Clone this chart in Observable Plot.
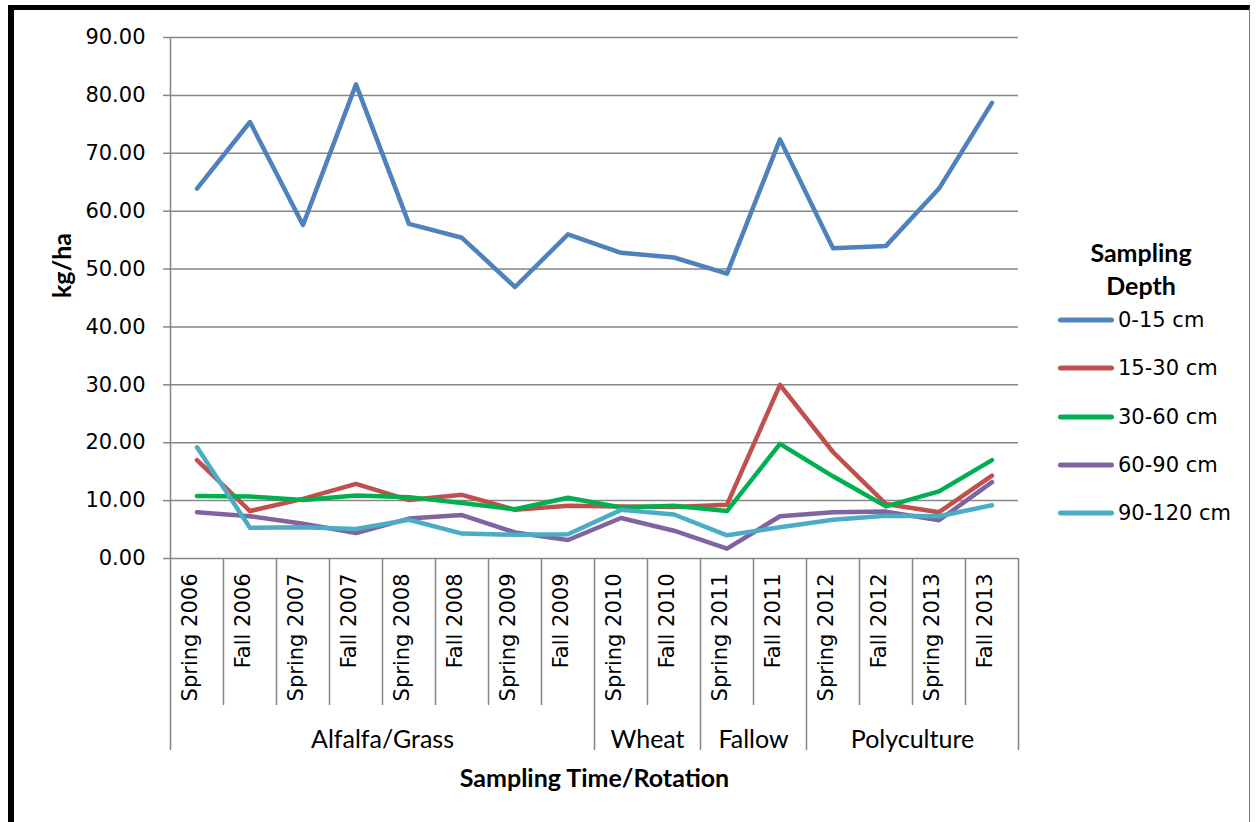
<!DOCTYPE html>
<html>
<head>
<meta charset="utf-8">
<script src="https://cdn.jsdelivr.net/npm/d3@7"></script>
<script src="https://cdn.jsdelivr.net/npm/@observablehq/plot@0.6"></script>
<style>
  html, body { margin: 0; padding: 0; background: #fff; overflow: hidden; }
  body { width: 1257px; height: 822px; position: relative; }
  #frame { position: absolute; left: 8px; top: 5px; width: 1242px; height: 900px;
           border-left: 6px solid #000; border-top: 5px solid #000; border-right: 1px solid #777; box-sizing: border-box; }
  #chart { position: absolute; left: 0; top: 0; }
  #legend { position: absolute; left: 0; top: 0; width: 1257px; height: 822px; pointer-events: none; }
  .lg-title { position: absolute; font-family: Lato, sans-serif; font-weight: bold; font-size: 25px; transform: translate(-50%, -50%); white-space: nowrap; }
  .lg-swatch { position: absolute; width: 56px; height: 5px; border-radius: 3px; transform: translateY(-50%); }
  .lg-text { position: absolute; font-family: "DejaVu Sans", sans-serif; font-size: 21px; transform: translateY(-50%); white-space: nowrap; }
</style>
</head>
<body>
<div id="frame"></div>
<div id="chart"></div>
<div id="legend"></div>
<script>
// ---- Data ----
const categories = ["Spring 2006","Fall 2006","Spring 2007","Fall 2007","Spring 2008","Fall 2008","Spring 2009","Fall 2009",
                    "Spring 2010","Fall 2010","Spring 2011","Fall 2011","Spring 2012","Fall 2012","Spring 2013","Fall 2013"];
const groupNames = ["Alfalfa/Grass","Wheat","Fallow","Polyculture"];
const groupSizes = [8, 2, 2, 4];
const seriesNames = ["0-15 cm","15-30 cm","30-60 cm","60-90 cm","90-120 cm"];
const seriesColors = ["#4F81BD","#C0504D","#00B050","#8064A2","#4BACC6"];
const depth0_15   = [63.9, 75.4, 57.6, 81.9, 57.8, 55.4, 46.9, 56.0, 52.8, 52.0, 49.2, 72.4, 53.6, 54.0, 63.9, 78.7];
const depth15_30  = [17.0,  8.2, 10.3, 12.9, 10.1, 11.0,  8.4,  9.1,  9.0,  8.9,  9.3, 30.0, 18.4,  9.4,  8.0, 14.3];
const depth30_60  = [10.8, 10.7, 10.1, 10.9, 10.6,  9.6,  8.5, 10.5,  8.8,  9.1,  8.2, 19.8, 14.2,  9.0, 11.6, 17.0];
const depth60_90  = [ 8.0,  7.3,  6.0,  4.4,  6.9,  7.5,  4.5,  3.2,  7.0,  4.8,  1.7,  7.3,  8.0,  8.1,  6.6, 13.2];
const depth90_120 = [19.2,  5.3,  5.4,  5.1,  6.7,  4.3,  4.1,  4.2,  8.4,  7.6,  4.0,  5.4,  6.7,  7.4,  7.3,  9.2];
const yTicks = [0, 10, 20, 30, 40, 50, 60, 70, 80, 90];
const yTitle = "kg/ha";
const xTitle = "Sampling Time/Rotation";
const legendTitle = ["Sampling", "Depth"];

// ---- Derived tables ----
const seriesValues = [depth0_15, depth15_30, depth30_60, depth60_90, depth90_120];
const rows = [];
seriesValues.forEach((vals, s) => vals.forEach((v, i) => rows.push({series: seriesNames[s], xi: i + 0.5, value: v})));
let acc = 0;
const groups = groupNames.map((name, k) => { const g = {name, start: acc, end: acc + groupSizes[k]}; acc += groupSizes[k]; return g; });
const groupEdges = [0, ...groups.map(g => g.end)];
const catEdges = d3.range(1, categories.length).filter(e => !groupEdges.includes(e));

// ---- Layout ----
const W = 1257, H = 822;
const mL = 170, mR = 239, mT = 37, mB = 264;
const plotH = H - mT - mB;          // 521
const labelDepth = 147;              // category label band below frame
const groupDepth = 192;              // group band below frame
const grid = "#868686";

const chart = Plot.plot({
  width: W, height: H,
  marginLeft: mL, marginRight: mR, marginTop: mT, marginBottom: mB,
  style: {fontFamily: "DejaVu Sans, sans-serif", fontSize: "21px", color: "#000", background: "transparent"},
  x: {type: "linear", domain: [0, categories.length], axis: null},
  y: {domain: [0, 90], axis: null},
  color: {domain: seriesNames, range: seriesColors},
  marks: [
    Plot.gridY(yTicks, {stroke: grid, strokeOpacity: 1, strokeWidth: 1.5}),
    Plot.ruleX([0], {stroke: grid, strokeWidth: 1.5}),
    Plot.axisY(yTicks, {tickFormat: d => d.toFixed(2), tickSize: 7, tickPadding: 18, stroke: grid, strokeWidth: 1.5, fontSize: 21, fill: "#000", label: null}),
    Plot.ruleX(catEdges, {x: d => d, stroke: grid, strokeWidth: 1.5, insetTop: plotH, insetBottom: -labelDepth}),
    Plot.ruleX(groupEdges, {x: d => d, stroke: grid, strokeWidth: 1.5, insetTop: plotH, insetBottom: -groupDepth}),
    Plot.text(categories, {x: (d, i) => i + 0.5, text: d => d, frameAnchor: "bottom", rotate: -90, textAnchor: "end", dy: 15, fontSize: 21, fill: "#000"}),
    Plot.text(groups, {x: d => (d.start + d.end) / 2, text: "name", frameAnchor: "bottom", dy: 189, fontFamily: "Lato, sans-serif", fontSize: 25, fill: "#000"}),
    Plot.text([xTitle], {frameAnchor: "bottom", dy: 228, fontFamily: "Lato, sans-serif", fontWeight: "bold", fontSize: 25, fill: "#000"}),
    Plot.text([yTitle], {frameAnchor: "left", dx: -108, rotate: -90, fontFamily: "Lato, sans-serif", fontWeight: "bold", fontSize: 25, fill: "#000"}),
    Plot.line(rows, {x: "xi", y: "value", z: "series", stroke: "series", strokeWidth: 4.5, strokeLinejoin: "round", strokeLinecap: "round"})
  ]
});
document.getElementById("chart").appendChild(chart);

// ---- Legend (HTML) ----
const legend = document.getElementById("legend");
const lgCx = 1141, lgTitleY = [252, 285], lgRow0 = 320, lgStep = 48.3, lgSwX = 1058, lgTxX = 1118;
legendTitle.forEach((t, k) => {
  const el = document.createElement("div");
  el.className = "lg-title"; el.textContent = t;
  el.style.left = lgCx + "px"; el.style.top = lgTitleY[k] + "px";
  legend.appendChild(el);
});
seriesNames.forEach((name, k) => {
  const y = lgRow0 + k * lgStep;
  const sw = document.createElement("div");
  sw.className = "lg-swatch"; sw.style.left = lgSwX + "px"; sw.style.top = y + "px"; sw.style.background = seriesColors[k];
  legend.appendChild(sw);
  const tx = document.createElement("div");
  tx.className = "lg-text"; tx.textContent = name; tx.style.left = lgTxX + "px"; tx.style.top = y + "px";
  legend.appendChild(tx);
});
</script>
</body>
</html>
